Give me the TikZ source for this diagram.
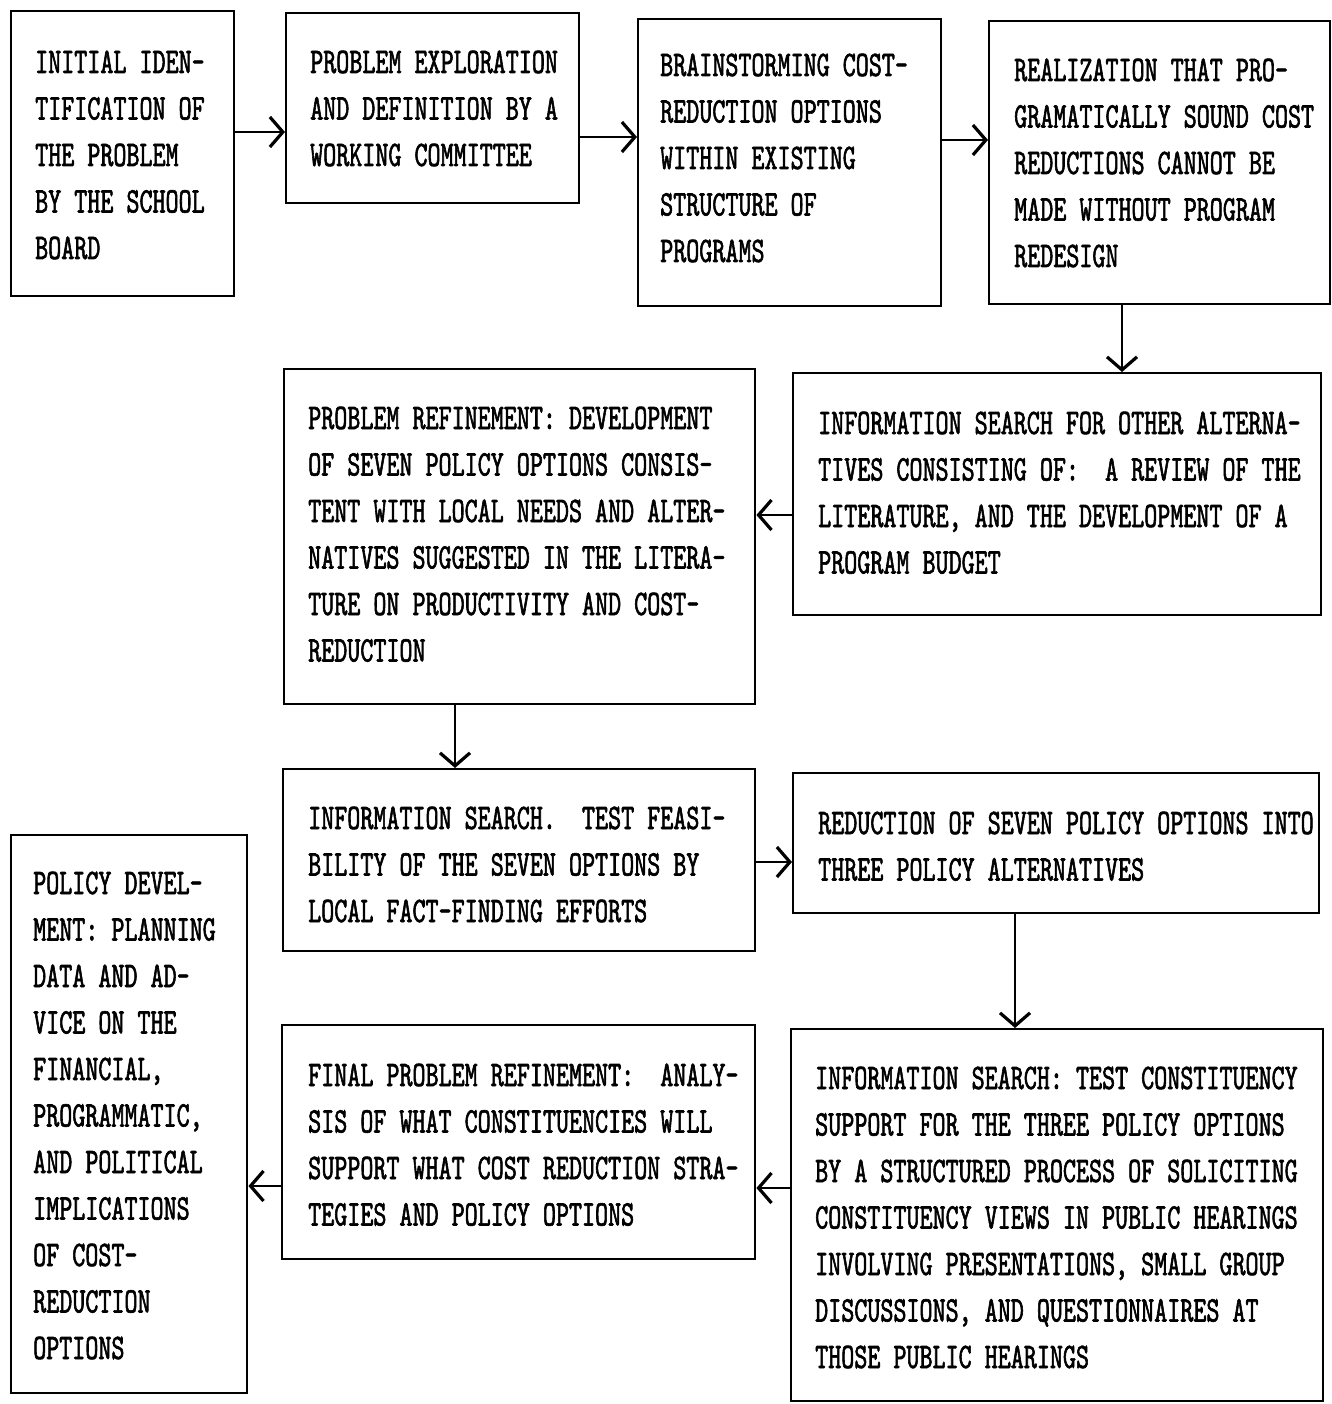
\documentclass[tikz,border=0pt]{standalone}
\usepackage{fontspec}
\newfontfamily\typewriter[FakeStretch=0.69,FakeBold=1.6]{lmmono10-regular.otf}
\usetikzlibrary{arrows.meta}
\tikzset{
  x=1pt, y=-1pt,
  stepbox/.style={draw, line width=2.4pt, rectangle, inner sep=0pt, anchor=north west},
  txt/.style={anchor=base west, inner sep=0pt, font=\typewriter\fontsize{36}{46.5}\selectfont},
  flow/.style={line width=2.3pt, -{Straight Barb[length=13pt,width=30pt,line width=3.2pt]}}
}
\newcommand\typed[1]{\parbox[t]{560pt}{\raggedright #1}}
\begin{document}
\begin{tikzpicture}
\fill[white] (0,0) rectangle (1331,1404);
\useasboundingbox (0,0) rectangle (1331,1404);

% boxes
\node[stepbox, minimum width=223pt, minimum height=285pt] (b1) at (10,10) {};
\node[stepbox, minimum width=293pt, minimum height=190pt] (b2) at (285,12) {};
\node[stepbox, minimum width=303pt, minimum height=287pt] (b3) at (637,18) {};
\node[stepbox, minimum width=341pt, minimum height=283pt] (b4) at (988,20) {};
\node[stepbox, minimum width=528pt, minimum height=242pt] (b5) at (792,372) {};
\node[stepbox, minimum width=471pt, minimum height=335pt] (b6) at (283,368) {};
\node[stepbox, minimum width=472pt, minimum height=182pt] (b7) at (282,768) {};
\node[stepbox, minimum width=526pt, minimum height=140pt] (b8) at (792,772) {};
\node[stepbox, minimum width=236pt, minimum height=558pt] (b9) at (10,834) {};
\node[stepbox, minimum width=473pt, minimum height=234pt] (b10) at (281,1024) {};
\node[stepbox, minimum width=532pt, minimum height=372pt] (b11) at (790,1028) {};

% texts
\node[txt] (t1) at (35,73) {\typed{INITIAL IDEN-\\TIFICATION OF\\THE PROBLEM\\BY THE SCHOOL\\BOARD}};
\node[txt] (t2) at (310,73) {\typed{PROBLEM EXPLORATION\\AND DEFINITION BY A\\WORKING COMMITTEE}};
\node[txt] (t3) at (660,76) {\typed{BRAINSTORMING COST-\\REDUCTION OPTIONS\\WITHIN EXISTING\\STRUCTURE OF\\PROGRAMS}};
\node[txt] (t4) at (1014,81) {\typed{REALIZATION THAT PRO-\\GRAMATICALLY SOUND COST\\REDUCTIONS CANNOT BE\\MADE WITHOUT PROGRAM\\REDESIGN}};
\node[txt] (t5) at (818,434) {\typed{INFORMATION SEARCH FOR OTHER ALTERNA-\\TIVES CONSISTING OF:~ A REVIEW OF THE\\LITERATURE, AND THE DEVELOPMENT OF A\\PROGRAM BUDGET}};
\node[txt] (t6) at (308,429) {\typed{PROBLEM REFINEMENT: DEVELOPMENT\\OF SEVEN POLICY OPTIONS CONSIS-\\TENT WITH LOCAL NEEDS AND ALTER-\\NATIVES SUGGESTED IN THE LITERA-\\TURE ON PRODUCTIVITY AND COST-\\REDUCTION}};
\node[txt] (t7) at (308,829) {\typed{INFORMATION SEARCH.~ TEST FEASI-\\BILITY OF THE SEVEN OPTIONS BY\\LOCAL FACT-FINDING EFFORTS}};
\node[txt] (t8) at (818,834) {\typed{REDUCTION OF SEVEN POLICY OPTIONS INTO\\THREE POLICY ALTERNATIVES}};
\node[txt] (t9) at (33,894) {\typed{POLICY DEVEL-\\MENT: PLANNING\\DATA AND AD-\\VICE ON THE\\FINANCIAL,\\PROGRAMMATIC,\\AND POLITICAL\\IMPLICATIONS\\OF COST-\\REDUCTION\\OPTIONS}};
\node[txt] (t10) at (308,1086) {\typed{FINAL PROBLEM REFINEMENT:~ ANALY-\\SIS OF WHAT CONSTITUENCIES WILL\\SUPPORT WHAT COST REDUCTION STRA-\\TEGIES AND POLICY OPTIONS}};
\node[txt] (t11) at (815,1089) {\typed{INFORMATION SEARCH: TEST CONSTITUENCY\\SUPPORT FOR THE THREE POLICY OPTIONS\\BY A STRUCTURED PROCESS OF SOLICITING\\CONSTITUENCY VIEWS IN PUBLIC HEARINGS\\INVOLVING PRESENTATIONS, SMALL GROUP\\DISCUSSIONS, AND QUESTIONNAIRES AT\\THOSE PUBLIC HEARINGS}};

% connectors
\draw[flow] (b1.east |- 0,132) -- (b2.west |- 0,132);
\draw[flow] (b2.east |- 0,137) -- (b3.west |- 0,137);
\draw[flow] (b3.east |- 0,140) -- (b4.west |- 0,140);
\draw[flow] (b4.south -| 1122,0) -- (b5.north -| 1122,0);
\draw[flow] (b5.west |- 0,515) -- (b6.east |- 0,515);
\draw[flow] (b6.south -| 455,0) -- (b7.north -| 455,0);
\draw[flow] (b7.east |- 0,862) -- (b8.west |- 0,862);
\draw[flow] (b8.south -| 1015,0) -- (b11.north -| 1015,0);
\draw[flow] (b11.west |- 0,1188) -- (b10.east |- 0,1188);
\draw[flow] (b10.west |- 0,1186) -- (b9.east |- 0,1186);
\end{tikzpicture}
\end{document}
